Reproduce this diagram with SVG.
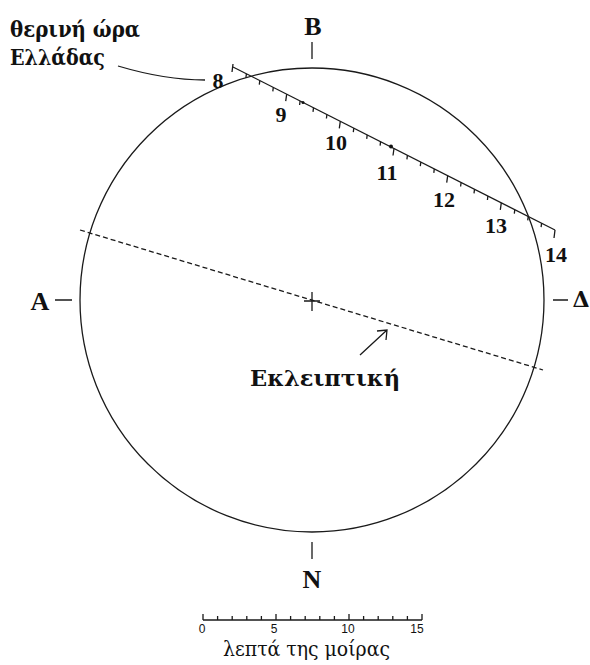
<svg xmlns="http://www.w3.org/2000/svg" width="590" height="665" viewBox="0 0 590 665">
<style>
.ln{fill:none;stroke:#1a1a1a;stroke-width:1.3}
.lab{font-family:"Liberation Serif","DejaVu Serif",serif;font-weight:bold;fill:#111}
.gr{font-family:"DejaVu Serif","Liberation Serif",serif;font-weight:bold;fill:#111}
.hr{font-family:"Liberation Serif","DejaVu Serif",serif;font-weight:bold;font-size:22px;fill:#111}
.sc{font-family:"Liberation Sans",Arial,sans-serif;font-size:12px;fill:#111}
</style>
<rect width="590" height="665" fill="#fff"/>
<g id="sky-circle">
<circle cx="312" cy="300" r="232" class="ln" stroke-width="1.5"/>
<path class="ln" d="M304,301 H320 M312,292 V311"/>
</g>
<g id="cardinal-points">
<path class="ln" d="M312,42 V59 M312,542 V559 M55,300 H72 M553,300 H568"/>
<text class="lab" x="313" y="35" font-size="26" text-anchor="middle">B</text>
<text class="lab" x="312" y="588" font-size="26" text-anchor="middle">N</text>
<text class="lab" x="40" y="310" font-size="26" text-anchor="middle">A</text>
<text class="gr" x="581" y="307" font-size="22" text-anchor="middle">Δ</text>
</g>
<g id="title">
<text class="gr" x="10" y="37" font-size="22" textLength="130" lengthAdjust="spacingAndGlyphs">θερινή ώρα</text>
<text class="gr" x="10" y="65" font-size="22" textLength="95" lengthAdjust="spacingAndGlyphs">Ελλάδας</text>
</g>
<g id="time-line">
<path class="ln" d="M233,67 L555,230"/>
<path class="ln" stroke-width="1" d="M233,64 l-1,8 M246.4,73.8 l-0.5,4 M259.8,80.6 l-0.5,4 M273.3,87.4 l-0.5,4 M286.7,94.2 l-1,7 M300.1,101 l-0.5,4 M313.5,107.8 l-0.5,4 M326.9,114.5 l-0.5,4 M340.3,121.3 l-1,7 M353.8,128.1 l-0.5,4 M367.2,134.9 l-0.5,4 M380.6,141.7 l-0.5,4 M394,148.5 l-1,7 M407.4,155.3 l-0.5,4 M420.8,162.1 l-0.5,4 M434.3,168.9 l-0.5,4 M447.7,175.7 l-1,7 M461.1,182.5 l-0.5,4 M474.5,189.3 l-0.5,4 M487.9,196 l-0.5,4 M501.3,202.8 l-1,7 M514.8,209.6 l-0.5,4 M528.2,216.4 l-0.5,4 M541.6,223.2 l-0.5,4 M555,230 l-1,8"/>
<circle cx="303" cy="102.5" r="1.5" fill="#111"/>
<circle cx="391" cy="146.5" r="2" fill="#111"/>
<text class="hr" x="218" y="88" text-anchor="middle">8</text>
<text class="hr" x="281" y="122" text-anchor="middle">9</text>
<text class="hr" x="336" y="150" text-anchor="middle">10</text>
<text class="hr" x="387" y="180" text-anchor="middle">11</text>
<text class="hr" x="444" y="207" text-anchor="middle">12</text>
<text class="hr" x="496" y="233" text-anchor="middle">13</text>
<text class="hr" x="556" y="262" text-anchor="middle">14</text>
</g>
<g id="ecliptic">
<path class="ln" stroke-width="1.2" stroke-dasharray="5 3" d="M80,230 L543,370"/>
<text class="gr" x="250" y="386" font-size="22" textLength="150" lengthAdjust="spacingAndGlyphs">Εκλειπτική</text>
</g>
<g id="scale">
<path class="ln" stroke-width="1" d="M203,620 H422 M203,620 v-6 M217.6,620 v-4 M232.2,620 v-4 M246.8,620 v-4 M261.4,620 v-4 M276,620 v-6 M290.6,620 v-4 M305.2,620 v-4 M319.8,620 v-4 M334.4,620 v-4 M349,620 v-6 M363.6,620 v-4 M378.2,620 v-4 M392.8,620 v-4 M407.4,620 v-4 M422,620 v-6"/>
<text class="sc" x="202" y="633" text-anchor="middle">0</text>
<text class="sc" x="274" y="633" text-anchor="middle">5</text>
<text class="sc" x="348" y="633" text-anchor="middle">10</text>
<text class="sc" x="417" y="633" text-anchor="middle">15</text>
<text x="223" y="656" font-family="DejaVu Serif, Liberation Serif, serif" font-size="20" fill="#111" textLength="167" lengthAdjust="spacingAndGlyphs">λεπτά της μοίρας</text>
</g>
<g id="connectors">
<path class="ln" d="M118,66 Q165,80 205,80"/>
<path class="ln" d="M360,355 L387,330 M377,331 L387,330 L386,340"/>
</g>
</svg>
